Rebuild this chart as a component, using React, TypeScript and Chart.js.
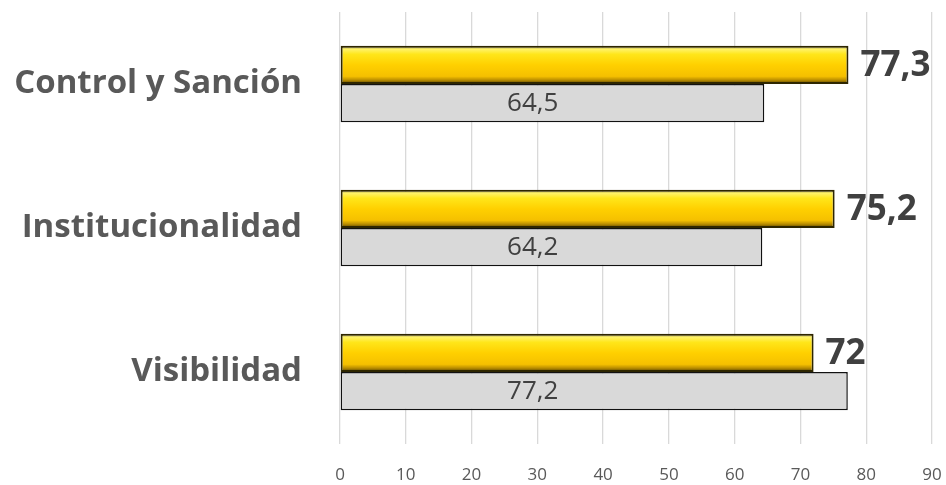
import React, { useEffect, useRef } from "react";
import { Chart, registerables } from "chart.js";

Chart.register(...registerables);

const categories = ["Control y Sanción", "Institucionalidad", "Visibilidad"];
const goldValues = [77.3, 75.2, 72];
const grayValues = [64.5, 64.2, 77.2];
const xTicks = [0, 10, 20, 30, 40, 50, 60, 70, 80, 90];

const W = 946;
const H = 485;
const CAT_PCT = 0.53;
const GRAY_LABEL_AT = 29.3;
const FONT = "'Open Sans', 'DejaVu Sans', sans-serif";

const fmt = (v: number) => String(v).replace(".", ",");

const goldFill = (c: any) => {
  const chart = c.chart;
  const ys = chart.scales && chart.scales.y;
  if (!ys || c.type !== "data" || !chart.chartArea) return "#ffcc00";
  const center = ys.getPixelForValue(c.dataIndex);
  const band = Math.abs(ys.getPixelForValue(1) - ys.getPixelForValue(0));
  const thick = band * CAT_PCT / 2;
  const top = center - thick;
  const bottom = center;
  const g = chart.ctx.createLinearGradient(0, top, 0, bottom);
  g.addColorStop(0, "#4a3a00");
  g.addColorStop(0.08, "#fff36e");
  g.addColorStop(0.22, "#ffe61a");
  g.addColorStop(0.5, "#ffd000");
  g.addColorStop(0.8, "#f5c000");
  g.addColorStop(0.9, "#b88c00");
  g.addColorStop(1, "#4a3800");
  return g;
};

const labelPlugin = {
  id: "valueLabels",
  afterDatasetsDraw(chart: any) {
    const ctx = chart.ctx;
    const xs = chart.scales.x;
    ctx.save();
    ctx.fillStyle = "#404040";
    ctx.textBaseline = "middle";
    const m0 = chart.getDatasetMeta(0);
    m0.data.forEach((el: any, i: number) => {
      ctx.font = `bold 35px ${FONT}`;
      ctx.textAlign = "left";
      ctx.fillText(fmt(goldValues[i]), el.x + 12, el.y + 1);
    });
    const m1 = chart.getDatasetMeta(1);
    m1.data.forEach((el: any, i: number) => {
      ctx.font = `26px ${FONT}`;
      ctx.textAlign = "center";
      ctx.fillText(fmt(grayValues[i]), xs.getPixelForValue(GRAY_LABEL_AT), el.y + 1);
    });
    ctx.restore();
  },
};

export default function App() {
  const ref = useRef<HTMLCanvasElement | null>(null);

  useEffect(() => {
    if (!ref.current) return;
    const chart = new Chart(ref.current, {
      type: "bar",
      data: {
        labels: categories,
        datasets: [
          {
            data: goldValues,
            backgroundColor: goldFill as any,
            borderColor: "#2e2600",
            borderWidth: 2,
            borderSkipped: false,
            categoryPercentage: CAT_PCT,
            barPercentage: 1,
          },
          {
            data: grayValues,
            backgroundColor: "#d9d9d9",
            borderColor: "#111111",
            borderWidth: 1.5,
            borderSkipped: false,
            categoryPercentage: CAT_PCT,
            barPercentage: 1,
          },
        ],
      },
      options: {
        indexAxis: "y",
        responsive: false,
        animation: false,
        devicePixelRatio: 1,
        layout: { padding: { top: 12, right: 14, left: 0, bottom: 0 } },
        plugins: {
          legend: { display: false },
          tooltip: { enabled: false },
        },
        scales: {
          x: {
            min: 0,
            max: 90,
            afterBuildTicks: (s: any) => {
              s.ticks = xTicks.map((v) => ({ value: v }));
            },
            afterFit: (s: any) => {
              s.height = 41;
              s.paddingLeft = 0;
              s.paddingRight = 0;
            },
            grid: { color: "#d9d9d9", lineWidth: 1.3, drawTicks: false },
            border: { display: false },
            ticks: {
              color: "#595959",
              font: { family: FONT, size: 17 },
              padding: 21,
            },
          },
          y: {
            afterFit: (s: any) => {
              s.width = 340;
              s.paddingTop = 0;
              s.paddingBottom = 0;
            },
            grid: { display: false, drawTicks: false },
            border: { display: false },
            ticks: {
              color: "#595959",
              font: { family: FONT, size: 33, weight: "bold" },
              padding: 38,
            },
          },
        },
      },
      plugins: [labelPlugin],
    });
    return () => chart.destroy();
  }, []);

  return (
    <div style={{ position: "absolute", left: 0, top: 0, width: W, height: H, background: "#fff" }}>
      <canvas ref={ref} width={W} height={H} />
    </div>
  );
}
